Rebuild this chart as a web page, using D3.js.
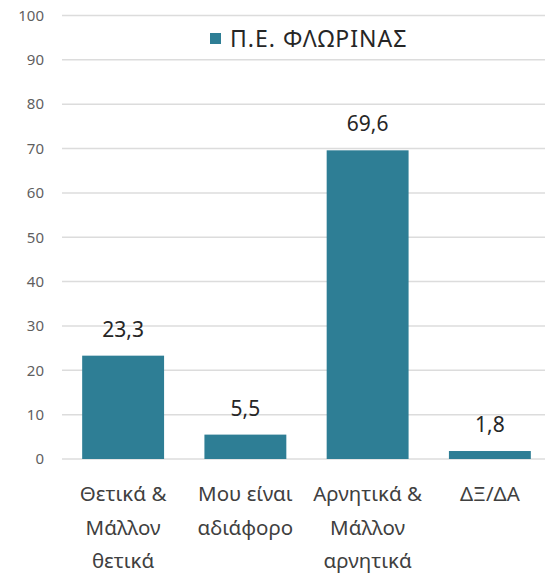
<!DOCTYPE html>
<html>
<head>
<meta charset="utf-8">
<script src="https://cdn.jsdelivr.net/npm/d3@7"></script>
<style>
  body { margin: 0; background: #fff; }
  svg { display: block; font-family: "Noto Sans", "Open Sans", sans-serif; }
</style>
</head>
<body>
<div id="chart"></div>
<script>
// data
const categories = ["Θετικά &\nΜάλλον\nθετικά", "Μου είναι\nαδιάφορο", "Αρνητικά &\nΜάλλον\nαρνητικά", "ΔΞ/ΔΑ"]
const values = [23.3, 5.5, 69.6, 1.8]
const yTicks = [0, 10, 20, 30, 40, 50, 60, 70, 80, 90, 100]
const seriesName = "Π.Ε. ΦΛΩΡΙΝΑΣ"

const W = 545, H = 576
const barColor = "#2e7e95"

const svg = d3.select("#chart").append("svg")
    .attr("width", W)
    .attr("height", H)

const x = d3.scaleBand()
    .domain(categories)
    .range([62, 551])
    .paddingInner(0.33)
    .paddingOuter(0.165)

const y = d3.scaleLinear()
    .domain([0, 100])
    .range([459, 15.5])

// gridlines
svg.append("g")
    .selectAll("line")
    .data(yTicks)
    .join("line")
    .attr("x1", 62)
    .attr("x2", W)
    .attr("y1", d => y(d))
    .attr("y2", d => y(d))
    .attr("stroke", "#dcdcdc")
    .attr("stroke-width", 1.5)

// y axis labels
svg.append("g")
    .selectAll("text")
    .data(yTicks)
    .join("text")
    .attr("x", 44)
    .attr("y", d => y(d))
    .attr("dy", "0.35em")
    .attr("text-anchor", "end")
    .attr("font-size", 15)
    .attr("fill", "#5f5f5f")
    .text(d => d)

// bars
svg.append("g")
    .selectAll("rect")
    .data(values)
    .join("rect")
    .attr("x", (d, i) => x(categories[i]))
    .attr("y", d => y(d))
    .attr("width", x.bandwidth())
    .attr("height", d => y(0) - y(d))
    .attr("fill", barColor)

// value labels (greek decimal comma)
svg.append("g")
    .selectAll("text")
    .data(values)
    .join("text")
    .attr("x", (d, i) => x(categories[i]) + x.bandwidth() / 2)
    .attr("y", d => y(d) - 19)
    .attr("text-anchor", "middle")
    .attr("font-size", 21)
    .attr("fill", "#262626")
    .text(d => d.toFixed(1).replace(".", ","))

// category labels, wrapped
const catG = svg.append("g")
    .selectAll("text")
    .data(categories)
    .join("text")
    .attr("text-anchor", "middle")
    .attr("font-size", 20.5)
    .attr("fill", "#404040")

catG.selectAll("tspan")
    .data(d => d.split("\n").map(t => ({ t, c: d })))
    .join("tspan")
    .attr("x", d => x(d.c) + x.bandwidth() / 2)
    .attr("y", (d, i) => 501 + i * 33.5)
    .text(d => d.t)

// legend
const legend = svg.append("g")
legend.append("rect")
    .attr("x", 210)
    .attr("y", 33)
    .attr("width", 11)
    .attr("height", 11)
    .attr("fill", barColor)
legend.append("text")
    .attr("x", 230)
    .attr("y", 47)
    .attr("font-size", 23)
    .attr("letter-spacing", 1)
    .attr("fill", "#262626")
    .text(seriesName)
</script>
</body>
</html>
